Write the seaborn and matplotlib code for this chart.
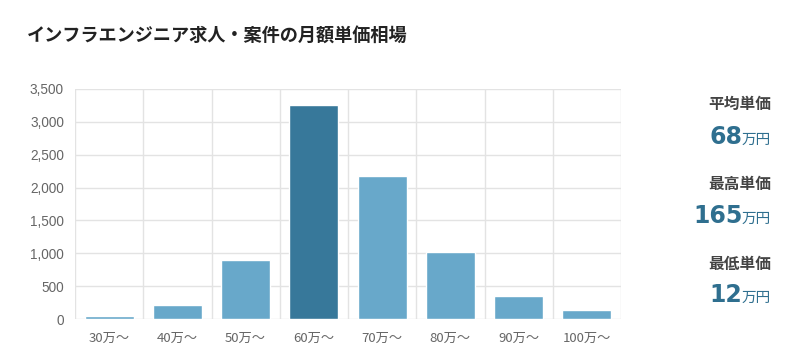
import matplotlib
matplotlib.use("Agg")
import matplotlib.pyplot as plt
import seaborn as sns
import numpy as np
from matplotlib.ticker import FuncFormatter, FixedLocator

categories = ["30万～", "40万～", "50万～", "60万～", "70万～", "80万～", "90万～", "100万～"]
counts = [50, 220, 900, 3250, 2170, 1015, 350, 145]
highlight = "60万～"
title = "インフラエンジニア求人・案件の月額単価相場"
stat_labels = ["平均単価", "最高単価", "最低単価"]
stat_values = ["68", "165", "12"]
stat_unit = "万円"

LIGHT = "#68a8ca"
DARK = "#37789a"
NUM = "#2f6f8f"
GRID = "#e3e3e3"

sns.set_theme(style="white")
plt.rcParams["font.family"] = ["Noto Sans CJK JP", "DejaVu Sans"]

fig = plt.figure(figsize=(8, 3.56), dpi=100)
ax = fig.add_axes([75/800, 1-319.3/356, (621-75)/800, (319.3-88.7)/356])

palette = {c: (DARK if c == highlight else LIGHT) for c in categories}
sns.barplot(x=categories, y=counts, hue=categories, palette=palette, legend=False,
            width=0.72, saturation=1, ax=ax, zorder=3)

ax.set_ylim(0, 3500)
ax.set_xlim(-0.5, len(categories) - 0.5)
ax.set_yticks(np.arange(0, 3501, 500))
ax.yaxis.set_major_formatter(FuncFormatter(lambda v, p: f"{int(v):,}"))
ax.xaxis.set_minor_locator(FixedLocator(np.arange(-0.5, len(categories), 1.0)))
ax.grid(axis="y", which="major", color=GRID, linewidth=1, zorder=0)
ax.grid(axis="x", which="minor", color=GRID, linewidth=1, zorder=0)
ax.grid(axis="x", which="major", visible=False)
for s in ax.spines.values():
    s.set_visible(False)
ax.tick_params(axis="x", which="major", length=0, pad=9, labelsize=9.5, labelcolor="#666666")
ax.tick_params(axis="x", which="minor", length=5.5, width=1, color=GRID)
ax.tick_params(axis="y", length=0, pad=8, labelsize=9.8, labelcolor="#666666")
for lab in ax.get_yticklabels():
    lab.set_family(["Liberation Sans", "Noto Sans CJK JP"])
ax.set_xlabel("")
ax.set_ylabel("")

fig.text(27/800, 1-36/356, title, fontsize=13.1, fontweight="bold", color="#222222",
         va="center", ha="left")

label_y = [104, 184, 264.5]
value_y = [144.3, 223, 302]
renderer = fig.canvas.get_renderer()
for lab, val, ly, vy in zip(stat_labels, stat_values, label_y, value_y):
    fig.text(771/800, 1-ly/356, lab, fontsize=11.3, fontweight="bold", color="#444444",
             ha="right", va="center")
    u = fig.text(771/800, 1-vy/356, stat_unit, fontsize=10.5, color=NUM,
                 ha="right", va="baseline")
    bb = u.get_window_extent(renderer)
    fig.text((bb.x0 + 0.5)/800, 1-vy/356, val, fontsize=17, fontweight="bold", color=NUM,
             ha="right", va="baseline", family=["DejaVu Sans"])

fig.savefig("out.png", dpi=100, facecolor="white")
